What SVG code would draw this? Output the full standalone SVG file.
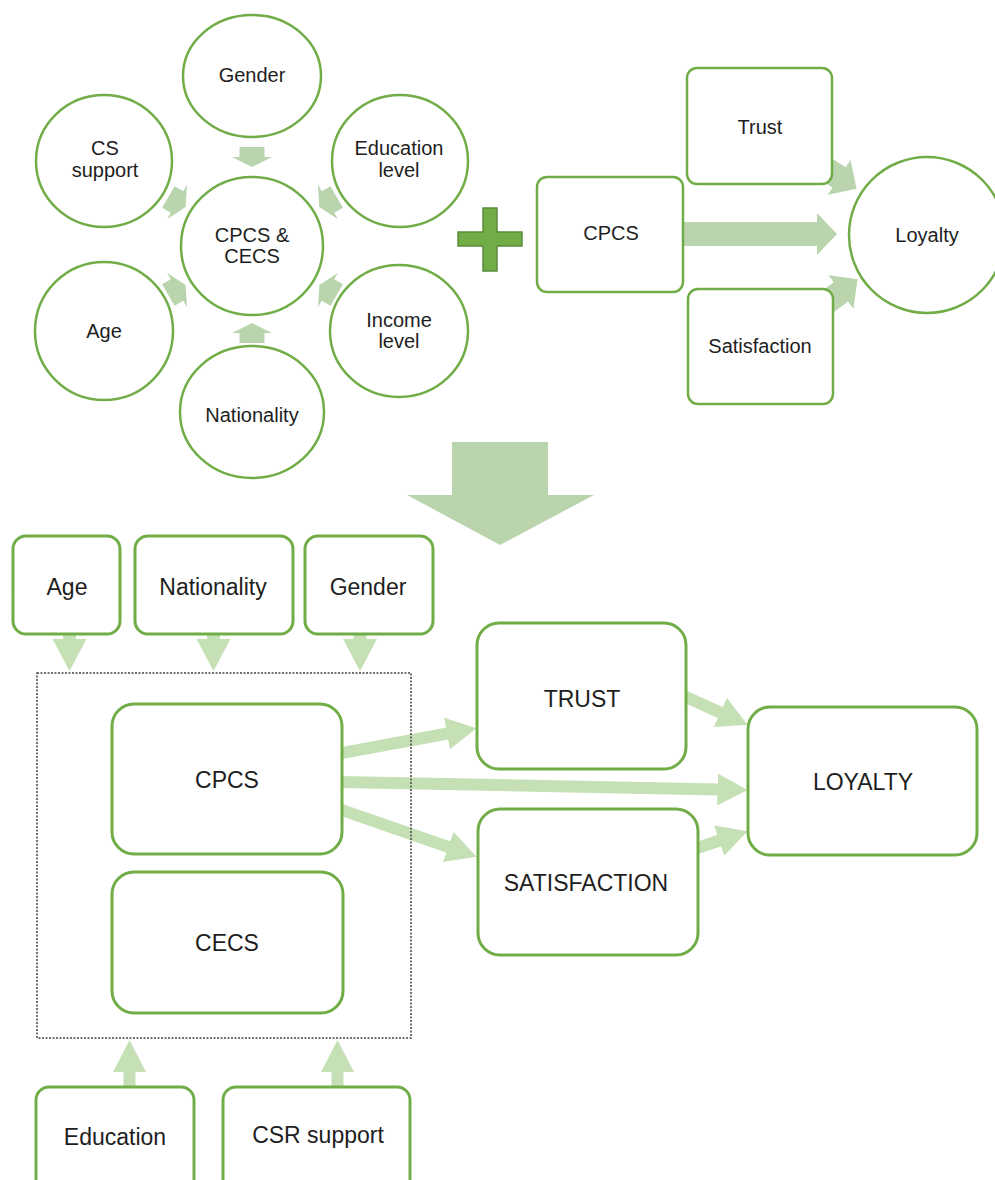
<svg xmlns="http://www.w3.org/2000/svg" width="995" height="1180" viewBox="0 0 995 1180">
  <defs>
    <style>
      .node { fill: #ffffff; stroke: #70ad47; stroke-width: 2.5; }
      .node-b { fill: #ffffff; stroke: #70ad47; stroke-width: 3; }
      .lbl { font-family: "Liberation Sans", Arial, Helvetica, sans-serif; font-size: 20px; fill: #1e1e1e; text-anchor: middle; }
      .lbl-b { font-family: "Liberation Sans", Arial, Helvetica, sans-serif; font-size: 23px; fill: #1e1e1e; text-anchor: middle; }
      .flow { fill: #bad4ae; }
      .flow-b { fill: #c5e0b5; }
      .shaft { stroke: #bad4ae; stroke-width: 24; fill: none; }
      .shaft-b { stroke: #c5e0b5; stroke-width: 12; fill: none; }
      .group-frame { fill: none; stroke: #444; stroke-width: 1.5; stroke-dasharray: 2 1.5; }
    </style>
    <!-- short radial block arrow, centred on origin, pointing along +x -->
    <path id="radial" d="M-10,-12.5 H0 V-20 L10,0 L0,20 V12.5 H-10 Z"/>
    <marker id="headWide" markerUnits="userSpaceOnUse" markerWidth="22" markerHeight="42" refX="0.5" refY="21" orient="auto">
      <path d="M0,0 L21,21 L0,42 Z" fill="#bad4ae"/>
    </marker>
    <marker id="headSlim" markerUnits="userSpaceOnUse" markerWidth="31" markerHeight="32" refX="0.5" refY="16" orient="auto">
      <path d="M0,0 L30,16 L0,32 Z" fill="#c5e0b5"/>
    </marker>
  </defs>

  <g id="connectors">
    <!-- radial arrows into the central circle -->
    <use href="#radial" class="flow" transform="translate(252,157) rotate(90)"/>
    <use href="#radial" class="flow" transform="translate(252,333) rotate(-90)"/>
    <use href="#radial" class="flow" transform="translate(177,202) rotate(30)"/>
    <use href="#radial" class="flow" transform="translate(328,202) rotate(150)"/>
    <use href="#radial" class="flow" transform="translate(177,290) rotate(-30)"/>
    <use href="#radial" class="flow" transform="translate(328,290) rotate(-150)"/>

    <!-- CPCS -> Loyalty (wide arrow) -->
    <path class="flow" d="M683,222 H817 V213 L837,234 L817,255 V246 H683 Z"/>
    <!-- Trust -> Loyalty, Satisfaction -> Loyalty -->
    <line class="shaft" x1="814" y1="161" x2="839.4" y2="177.6" marker-end="url(#headWide)"/>
    <line class="shaft" x1="817" y1="309.7" x2="841.2" y2="291.6" marker-end="url(#headWide)"/>

    <!-- large transition arrow -->
    <path class="flow" d="M452,442 H548 V495 H594 L500,545 L407,495 H452 Z"/>

    <!-- demographic boxes down into the group frame -->
    <path class="flow-b" d="M63,628 H76 V639 H86.5 L69.5,671 L52.5,639 H63 Z"/>
    <path class="flow-b" d="M207,628 H220 V639 H230.5 L213.5,671 L196.5,639 H207 Z"/>
    <path class="flow-b" d="M353.5,628 H366.5 V639 H377 L360,671 L343,639 H353.5 Z"/>
    <!-- education / CSR support up into the group frame -->
    <path class="flow-b" d="M123.5,1094 H135.5 V1072 H146 L129.5,1040 L113,1072 H123.5 Z"/>
    <path class="flow-b" d="M331.5,1094 H343.5 V1072 H354 L337.5,1040 L321,1072 H331.5 Z"/>

    <!-- CPCS paths -->
    <line class="shaft-b" x1="340" y1="753.4" x2="447.5" y2="733.5" marker-end="url(#headSlim)"/>
    <line class="shaft-b" x1="340" y1="782" x2="718" y2="789.4" marker-end="url(#headSlim)"/>
    <line class="shaft-b" x1="340" y1="809.3" x2="448.7" y2="847.1" marker-end="url(#headSlim)"/>
    <line class="shaft-b" x1="684" y1="696.1" x2="720.7" y2="712.7" marker-end="url(#headSlim)"/>
    <line class="shaft-b" x1="695" y1="848.7" x2="719.6" y2="840.5" marker-end="url(#headSlim)"/>
  </g>

  <!-- upper left: factors around the central construct -->
  <g id="n-gender-c">
    <ellipse class="node" cx="252" cy="76" rx="69" ry="61"/>
    <text class="lbl" x="252" y="82">Gender</text>
  </g>
  <g id="n-cs-support-c">
    <ellipse class="node" cx="104" cy="161" rx="68" ry="66"/>
    <text class="lbl" x="105" y="155">CS</text>
    <text class="lbl" x="105" y="177">support</text>
  </g>
  <g id="n-education-c">
    <ellipse class="node" cx="400" cy="161" rx="68" ry="66"/>
    <text class="lbl" x="399" y="155">Education</text>
    <text class="lbl" x="399" y="177">level</text>
  </g>
  <g id="n-center">
    <ellipse class="node" cx="252" cy="246" rx="71" ry="69"/>
    <text class="lbl" x="252" y="242">CPCS &amp;</text>
    <text class="lbl" x="252" y="263">CECS</text>
  </g>
  <g id="n-age-c">
    <ellipse class="node" cx="104" cy="331" rx="69" ry="69"/>
    <text class="lbl" x="104" y="338">Age</text>
  </g>
  <g id="n-income-c">
    <ellipse class="node" cx="399" cy="331" rx="69" ry="66"/>
    <text class="lbl" x="399" y="327">Income</text>
    <text class="lbl" x="399" y="348">level</text>
  </g>
  <g id="n-nationality-c">
    <ellipse class="node" cx="252" cy="412" rx="72" ry="66"/>
    <text class="lbl" x="252" y="422">Nationality</text>
  </g>

  <!-- plus sign -->
  <g id="plus">
    <path d="M483,208 H497 V232 H522 V246 H497 V271 H483 V246 H458 V232 H483 Z" fill="#70ad47" stroke="#588c3a" stroke-width="1.5"/>
  </g>

  <!-- upper right -->
  <g id="n-cpcs-top">
    <rect class="node" x="537" y="177" width="146" height="115" rx="10"/>
    <text class="lbl" x="611" y="240">CPCS</text>
  </g>
  <g id="n-trust-top">
    <rect class="node" x="687" y="68" width="145" height="116" rx="10"/>
    <text class="lbl" x="760" y="134">Trust</text>
  </g>
  <g id="n-satisfaction-top">
    <rect class="node" x="688" y="289" width="145" height="115" rx="10"/>
    <text class="lbl" x="760" y="353">Satisfaction</text>
  </g>
  <g id="n-loyalty-top">
    <ellipse class="node" cx="927" cy="235" rx="78" ry="78"/>
    <text class="lbl" x="927" y="242">Loyalty</text>
  </g>

  <!-- lower model -->
  <g id="n-age">
    <rect class="node-b" x="13" y="536" width="107" height="98" rx="13"/>
    <text class="lbl-b" x="67" y="595">Age</text>
  </g>
  <g id="n-nationality">
    <rect class="node-b" x="135" y="536" width="158" height="98" rx="13"/>
    <text class="lbl-b" x="213" y="595">Nationality</text>
  </g>
  <g id="n-gender">
    <rect class="node-b" x="305" y="536" width="128" height="98" rx="13"/>
    <text class="lbl-b" x="368" y="595">Gender</text>
  </g>

  <g id="frame">
    <rect class="group-frame" x="37" y="673" width="374" height="365"/>
  </g>

  <g id="n-cpcs">
    <rect class="node-b" x="112" y="704" width="230" height="150" rx="22"/>
    <text class="lbl-b" x="227" y="788">CPCS</text>
  </g>
  <g id="n-cecs">
    <rect class="node-b" x="112" y="872" width="231" height="141" rx="22"/>
    <text class="lbl-b" x="227" y="951">CECS</text>
  </g>
  <g id="n-trust">
    <rect class="node-b" x="477" y="623" width="209" height="146" rx="22"/>
    <text class="lbl-b" x="582" y="707">TRUST</text>
  </g>
  <g id="n-satisfaction">
    <rect class="node-b" x="478" y="809" width="220" height="146" rx="22"/>
    <text class="lbl-b" x="586" y="891">SATISFACTION</text>
  </g>
  <g id="n-loyalty">
    <rect class="node-b" x="748" y="707" width="229" height="148" rx="22"/>
    <text class="lbl-b" x="863" y="790">LOYALTY</text>
  </g>
  <g id="n-education">
    <rect class="node-b" x="36" y="1087" width="158" height="110" rx="13"/>
    <text class="lbl-b" x="115" y="1145">Education</text>
  </g>
  <g id="n-csr">
    <rect class="node-b" x="223" y="1087" width="187" height="110" rx="13"/>
    <text class="lbl-b" x="318" y="1143">CSR support</text>
  </g>
</svg>
